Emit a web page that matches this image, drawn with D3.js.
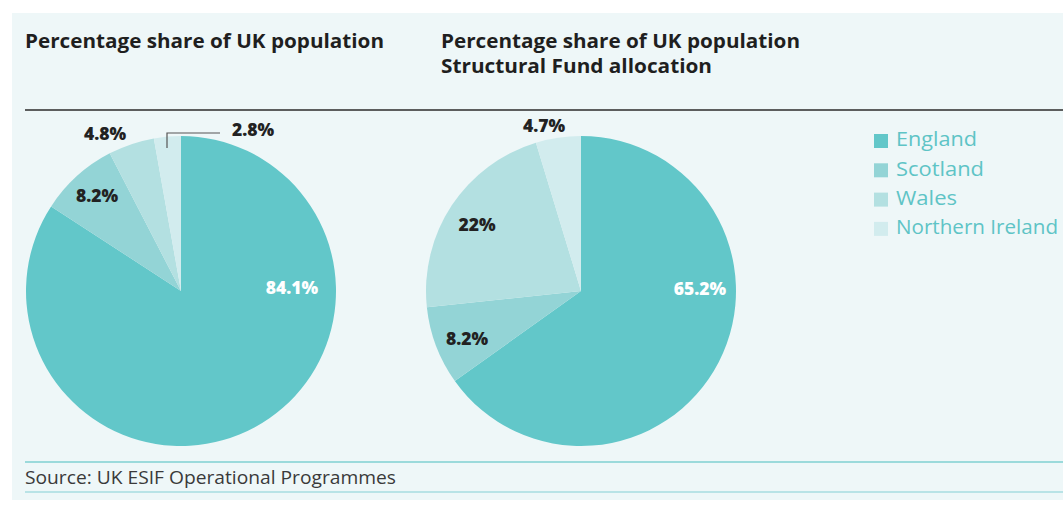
<!DOCTYPE html>
<html><head><meta charset="utf-8">
<script src="https://cdn.jsdelivr.net/npm/d3@7"></script>
<style>body{margin:0;background:#fff;}svg{display:block;}</style>
</head><body>
<svg id="c" width="1063" height="509"></svg>
<script>
const categories = ["England","Scotland","Wales","Northern Ireland"];
const populationShare = [84.1, 8.2, 4.8, 2.8];
const fundShare = [65.2, 8.2, 22, 4.7];
const populationLabels = ["84.1%","8.2%","4.8%","2.8%"];
const fundLabels = ["65.2%","8.2%","22%","4.7%"];
const titles = [["Percentage share of UK population"],["Percentage share of UK population","Structural Fund allocation"]];
const colors = ["#62c7c9","#93d4d6","#b3e0e1","#d2ecee"];

const svg = d3.select("#c");
svg.append("rect").attr("x",12).attr("y",13).attr("width",1051).attr("height",487).attr("fill","#eef7f8");

const titleFont = "'Open Sans', sans-serif";
const titleWidths = [[359],[359,271]];
[[25],[441]].forEach((p,i)=>{
  titles[i].forEach((line,j)=>{
    svg.append("text").attr("x",p[0]).attr("y",48+j*25).attr("font-family",titleFont)
      .attr("font-weight",700).attr("font-size",19.5).attr("fill","#1f1f1f")
      .attr("textLength",titleWidths[i][j]).attr("lengthAdjust","spacingAndGlyphs").text(line);
  });
});
svg.append("line").attr("x1",25).attr("x2",1063).attr("y1",110).attr("y2",110).attr("stroke","#2b2b2b").attr("stroke-width",1.5);

const color = d3.scaleOrdinal().domain(categories).range(colors);
const r = 155;
const pie = d3.pie().sort(null).value(d=>d.v);
const arc = d3.arc().innerRadius(0).outerRadius(r);

function drawPie(cx, cy, values, labels, labelPos) {
  const g = svg.append("g").attr("transform",`translate(${cx},${cy})`);
  const data = pie(values.map((v,i)=>({v, k:categories[i], l:labels[i]})));
  g.selectAll("path").data(data).join("path").attr("d",arc).attr("fill",d=>color(d.data.k));
  g.selectAll("text").data(data).join("text")
    .attr("x",(d,i)=>labelPos[i][0]).attr("y",(d,i)=>labelPos[i][1])
    .attr("text-anchor","middle").attr("dominant-baseline","middle")
    .attr("font-family","'Open Sans', sans-serif").attr("font-weight",800).attr("font-size",17.5)
    .attr("fill",(d,i)=>i===0?"#ffffff":"#222")
    .text(d=>d.data.l);
  return g;
}
const g1 = drawPie(181, 291, populationShare, populationLabels, [[111,-2],[-84,-94],[-76,-156],[72,-160]]);
g1.append("path").attr("d","M-14,-143 V-158 H39").attr("fill","none").attr("stroke","#555").attr("stroke-width",1.2);
drawPie(581, 291, fundShare, fundLabels, [[119,-1],[-114,49],[-104,-65],[-37,-164]]);

// legend
const lg = svg.append("g").attr("transform","translate(874,141)");
const legendWidths = [81,88,61,162];
categories.forEach((c,i)=>{
  lg.append("rect").attr("x",0).attr("y",i*29.3-7).attr("width",14).attr("height",14).attr("fill",color(c));
  lg.append("text").attr("x",22).attr("y",i*29.3).attr("dominant-baseline","middle")
    .attr("font-family","'Open Sans', sans-serif").attr("font-size",20).attr("fill","#5ec4c6")
    .attr("textLength",legendWidths[i]).attr("lengthAdjust","spacingAndGlyphs").text(c);
});

// source
svg.append("line").attr("x1",25).attr("x2",1063).attr("y1",462).attr("y2",462).attr("stroke","#7fd0d2").attr("stroke-width",1.5);
svg.append("text").attr("x",25).attr("y",484).attr("font-family","'Open Sans', sans-serif").attr("font-size",17.5)
  .attr("fill","#3a3a3a").attr("textLength",371).attr("lengthAdjust","spacingAndGlyphs").text("Source: UK ESIF Operational Programmes");
svg.append("line").attr("x1",25).attr("x2",1063).attr("y1",492).attr("y2",492).attr("stroke","#a7dde0").attr("stroke-width",1.5);
</script>
</body></html>
